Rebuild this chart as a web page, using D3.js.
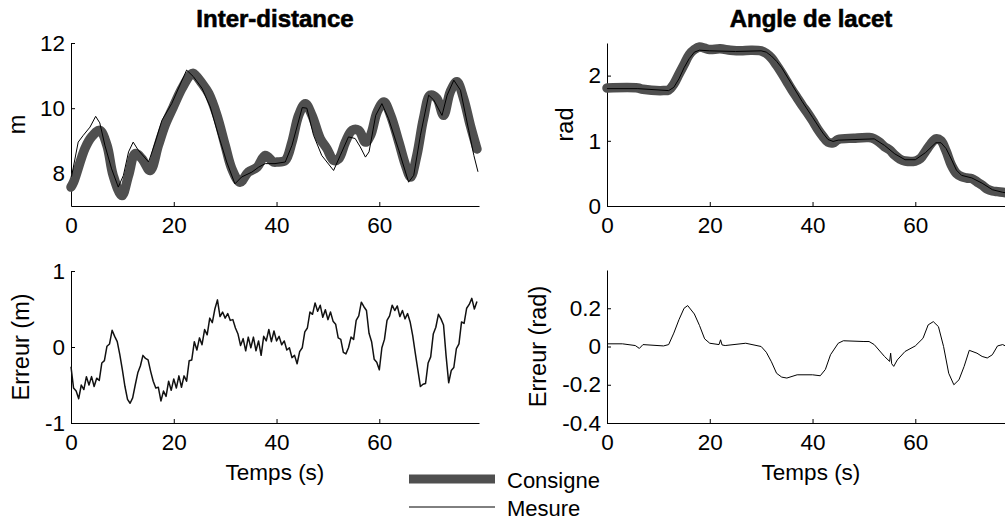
<!DOCTYPE html>
<html>
<head>
<meta charset="utf-8">
<script src="https://cdn.jsdelivr.net/npm/d3@7"></script>
<style>
body { margin: 0; background: #fff; }
svg text { font-family: "Liberation Sans", Arial, sans-serif; fill: #000; }
</style>
</head>
<body>
<svg id="chart" width="1005" height="521"></svg>
<script>
'use strict';

// Inter-distance (m) : consigne / mesure
var distConsT = [0, 0.5, 2.7, 4, 5.6, 7, 8.2, 9.9, 11.2, 12.5, 13.8, 15.4, 17, 18.3, 19.9, 21.6, 23.2, 23.8, 25.5, 26.8, 28.4, 30, 31.3, 32.9, 34.5, 36.2, 37.8, 39.4, 40.1, 41.7, 43, 44.3, 45.6, 46.9, 48.5, 49.8, 51.1, 52.1, 53.4, 54.7, 56, 57.3, 58.3, 59.6, 60.9, 62.2, 63.8, 65.1, 66.1, 67.3, 68.6, 69.9, 71.2, 72.5, 73.8, 75.1, 76.4, 77.7, 79];
var distConsV = [7.58, 7.73, 8.76, 9.12, 9.32, 8.86, 7.94, 7.32, 7.94, 8.61, 8.45, 8.09, 8.86, 9.48, 10.04, 10.61, 11.02, 11.07, 10.76, 10.45, 9.78, 8.86, 8.14, 7.73, 8.04, 8.19, 8.55, 8.35, 8.35, 8.4, 8.96, 9.78, 10.14, 9.78, 9.07, 8.76, 8.4, 8.45, 8.96, 9.32, 9.32, 8.96, 9.17, 9.89, 10.19, 9.78, 8.96, 8.25, 7.89, 8.55, 9.68, 10.4, 10.3, 9.78, 10.5, 10.81, 10.3, 9.48, 8.75];
var distMesT = [0.1, 1.4, 2.4, 3.7, 4.8, 5.6, 6.6, 7.9, 9.2, 10.2, 11.2, 12.1, 13.1, 15.1, 16.4, 17.7, 19.6, 21.2, 22.5, 23.8, 25.5, 27.1, 28.7, 30.3, 31.9, 33.2, 35.2, 36.5, 37.8, 39.7, 41.7, 43, 45, 45.9, 47.2, 48.8, 51.1, 52.4, 54, 55.3, 56.3, 57.3, 58, 59.3, 60.5, 61.8, 63.8, 65.7, 66.7, 68, 69.6, 70.6, 72.2, 73.2, 74.5, 75.8, 77.4, 78.4, 79.2];
var distMesV = [7.9, 8.96, 9.17, 9.42, 9.75, 9.55, 8.86, 8.14, 7.58, 7.94, 8.66, 8.96, 8.71, 8.35, 8.96, 9.63, 10.14, 10.71, 11.17, 10.97, 10.61, 10.04, 9.17, 8.35, 7.68, 7.89, 8.04, 8.19, 8.3, 8.3, 8.35, 8.86, 10.02, 10.0, 9.17, 8.55, 8.09, 8.55, 9.12, 9.07, 8.81, 8.5, 8.66, 9.78, 10.14, 9.68, 8.71, 7.73, 7.94, 9.17, 10.4, 10.25, 9.78, 10.4, 10.86, 10.55, 9.32, 8.55, 8.05];

// Angle de lacet (rad) : consigne / mesure
var yawConsT = [0, 6, 7, 11, 12, 13, 14, 15, 16, 17, 18, 19, 20, 22, 24, 26, 28, 30, 31, 32, 33, 34, 35, 36, 37, 38, 39, 40, 41, 42, 43, 44, 45, 48, 51, 52, 53, 54, 55, 56, 57, 58, 60, 61, 62, 63, 64, 65, 66, 67, 68, 69, 70, 71, 72, 73, 74, 75, 76, 77, 78, 79.4];
var yawConsV = [1.81, 1.81, 1.79, 1.77, 1.78, 1.87, 2.02, 2.17, 2.32, 2.40, 2.44, 2.42, 2.40, 2.41, 2.39, 2.38, 2.39, 2.38, 2.34, 2.27, 2.16, 2.04, 1.91, 1.78, 1.66, 1.54, 1.43, 1.31, 1.18, 1.07, 0.98, 0.97, 1.02, 1.04, 1.05, 1.03, 0.98, 0.91, 0.86, 0.78, 0.72, 0.69, 0.69, 0.73, 0.84, 0.95, 1.03, 1.0, 0.84, 0.63, 0.50, 0.45, 0.43, 0.42, 0.37, 0.32, 0.26, 0.23, 0.22, 0.21, 0.20, 0.19];
var yawMesT = [0, 6, 12, 13, 14, 15, 16, 17, 18, 20, 25, 30, 31, 32, 33, 34, 36, 38, 40, 42, 43, 44, 45, 52, 54, 56, 58, 60, 62, 64, 65, 66, 67, 68, 69, 71, 73, 75, 77, 79.4];
var yawMesV = [1.80, 1.80, 1.77, 1.82, 1.95, 2.12, 2.26, 2.36, 2.39, 2.38, 2.37, 2.38, 2.36, 2.30, 2.22, 2.12, 1.86, 1.60, 1.36, 1.12, 1.02, 0.99, 1.01, 1.03, 0.93, 0.80, 0.71, 0.71, 0.82, 0.97, 0.97, 0.88, 0.72, 0.55, 0.47, 0.43, 0.35, 0.25, 0.21, 0.18];

// Erreur inter-distance (m), one sample every 0.5 s
var distErrStep = 0.5;
var distErr = [-0.26, -0.54, -0.58, -0.68, -0.50, -0.56, -0.39, -0.50, -0.39, -0.52, -0.41, -0.44, -0.21, -0.18, 0.01, 0.04, 0.22, 0.14,
  0.07, -0.10, -0.30, -0.52, -0.69, -0.74, -0.67, -0.50, -0.34, -0.25, -0.11, -0.15, -0.17, -0.32, -0.45, -0.54,
  -0.53, -0.71, -0.58, -0.65, -0.45, -0.57, -0.42, -0.54, -0.38, -0.53, -0.38, -0.45, -0.18, -0.17, 0.07, -0.04,
  0.12, 0.03, 0.23, 0.16, 0.38, 0.32, 0.50, 0.62, 0.40, 0.46, 0.38, 0.44, 0.35, 0.36, 0.25, 0.17, 0.02, 0.11,
  -0.05, 0.13, -0.01, 0.13, -0.05, 0.08, -0.11, 0.14, 0.08, 0.23, 0.07, 0.21, 0.08, 0.14, 0.03, 0.08, -0.04,
  -0.01, -0.14, -0.11, -0.22, -0.06, -0.01, 0.20, 0.25, 0.46, 0.43, 0.58, 0.47, 0.55, 0.39, 0.49, 0.36, 0.46,
  0.34, 0.30, 0.12, 0.10, -0.07, -0.09, -0.01, 0.13, 0.10, 0.35, 0.41, 0.59, 0.53, 0.48, 0.18, 0.07, -0.16,
  -0.20, -0.30, -0.01, 0.10, 0.35, 0.41, 0.55, 0.48, 0.54, 0.40, 0.48, 0.37, 0.44, 0.33, 0.15, -0.08, -0.30,
  -0.52, -0.49, -0.48, -0.21, -0.13, 0.17, 0.26, 0.43, 0.37, 0.29, -0.12, -0.47, -0.31, -0.27, -0.02, 0.04,
  0.33, 0.31, 0.51, 0.56, 0.64, 0.50, 0.60];

// Erreur angle (rad)
var yawErrT = [0, 3, 5.5, 6.3, 7, 11, 12, 13, 14, 15, 15.7, 17, 18, 19, 20, 21.8, 22.1, 22.4, 23, 27, 30, 31, 32, 33, 34, 35, 37, 40, 41.5, 42.5, 43.5, 45, 46, 50, 51, 52, 54, 55, 55.2, 55.4, 55.8, 56.5, 58, 60, 61.5, 62.5, 63.5, 64.5, 65.5, 66.5, 67.5, 68.5, 69.5, 70.5, 72, 73, 74, 75, 76, 77, 78, 79.4];
var yawErrV = [0.014, 0.014, 0.005, -0.01, 0.01, 0.003, 0.01, 0.07, 0.14, 0.2, 0.214, 0.17, 0.11, 0.04, 0.017, 0.01, 0.035, 0.008, 0.005, 0.017, 0.0, -0.03, -0.08, -0.14, -0.16, -0.165, -0.148, -0.148, -0.153, -0.12, -0.043, 0.017, 0.03, 0.026, 0.026, 0.01, -0.052, -0.078, -0.035, -0.09, -0.104, -0.07, -0.026, 0.003, 0.043, 0.113, 0.13, 0.104, 0.0, -0.14, -0.2, -0.174, -0.104, -0.02, -0.035, -0.052, -0.06, -0.043, 0.003, 0.01, -0.003, 0.0];

var xDomain = [0, 79.4];
var xTicks = [0, 20, 40, 60];
var consColor = '#4f4f4f';

var svg = d3.select('#chart');

function zip(ts, vs) {
  return ts.map(function (t, i) { return [t, vs[i]]; });
}

function drawPanel(p) {
  var x = d3.scaleLinear().domain(xDomain).range([p.left, p.left + 408]);
  var y = d3.scaleLinear().domain(p.yDomain).range([p.bottom, p.top]);

  var g = svg.append('g');

  var xAxis = d3.axisBottom(x).tickValues(xTicks)
    .tickSizeInner(-4).tickSizeOuter(0).tickPadding(11)
    .tickFormat(function (d) { return String(d); });
  var yAxis = d3.axisLeft(y).tickValues(p.yTicks)
    .tickSizeInner(-4).tickSizeOuter(0).tickPadding(6)
    .tickFormat(function (d) { return String(d); });

  var gx = g.append('g').attr('transform', 'translate(0,' + p.bottom + ')').call(xAxis);
  var gy = g.append('g').attr('transform', 'translate(' + p.left + ',0)').call(yAxis);
  [gx, gy].forEach(function (a) {
    a.attr('font-size', null).attr('font-family', null);
    a.selectAll('text').style('font-size', '22.5px');
    a.selectAll('path, line').attr('stroke', '#000').attr('stroke-width', 1);
  });

  var line = d3.line()
    .x(function (d) { return x(d[0]); })
    .y(function (d) { return y(d[1]); });

  p.series.forEach(function (s) {
    g.append('path')
      .datum(s.data)
      .attr('fill', 'none')
      .attr('stroke', s.color)
      .attr('stroke-width', s.width)
      .attr('stroke-linejoin', 'round')
      .attr('stroke-linecap', s.width > 2 ? 'round' : 'butt')
      .attr('d', line.curve(s.smooth ? d3.curveCatmullRom : d3.curveLinear));
  });

  g.append('text')
    .attr('transform', 'translate(' + p.yLabelX + ',' + ((p.top + p.bottom) / 2) + ') rotate(-90)')
    .attr('text-anchor', 'middle')
    .style('font-size', '23.5px')
    .text(p.yLabel);

  if (p.title) {
    g.append('text')
      .attr('x', p.left + 204)
      .attr('y', 27)
      .attr('text-anchor', 'middle')
      .style('font-size', '24px')
      .style('font-weight', 'bold')
      .style('stroke', '#000')
      .style('stroke-width', 0.6)
      .text(p.title);
  }
  if (p.xLabel) {
    g.append('text')
      .attr('x', p.left + 204)
      .attr('y', 480)
      .attr('text-anchor', 'middle')
      .style('font-size', '22.5px')
      .text(p.xLabel);
  }
}

drawPanel({
  left: 71, top: 43, bottom: 206, yDomain: [7, 12], yTicks: [8, 10, 12],
  yLabel: 'm', yLabelX: 25, title: 'Inter-distance',
  series: [
    {data: zip(distConsT, distConsV), color: consColor, width: 9.5, smooth: true},
    {data: zip(distMesT, distMesV), color: '#000', width: 1}
  ]
});

drawPanel({
  left: 607, top: 43, bottom: 206, yDomain: [0, 2.5], yTicks: [0, 1, 2],
  yLabel: 'rad', yLabelX: 573, title: 'Angle de lacet',
  series: [
    {data: zip(yawConsT, yawConsV), color: consColor, width: 9.5, smooth: true},
    {data: zip(yawMesT, yawMesV), color: '#000', width: 1}
  ]
});

drawPanel({
  left: 71, top: 271, bottom: 423, yDomain: [-1, 1], yTicks: [-1, 0, 1],
  yLabel: 'Erreur (m)', yLabelX: 29, xLabel: 'Temps (s)',
  series: [
    {data: distErr.map(function (v, i) { return [i * distErrStep, v]; }), color: '#111', width: 1.5}
  ]
});

drawPanel({
  left: 607, top: 270, bottom: 423, yDomain: [-0.4, 0.4], yTicks: [-0.4, -0.2, 0, 0.2],
  yLabel: 'Erreur (rad)', yLabelX: 546, xLabel: 'Temps (s)',
  series: [
    {data: zip(yawErrT, yawErrV), color: '#000', width: 1}
  ]
});

// legend
var legendItems = [
  {label: 'Consigne', color: consColor, width: 9, y: 479, textY: 488},
  {label: 'Mesure', color: '#000', width: 1, y: 507, textY: 516}
];
var lg = svg.append('g');
legendItems.forEach(function (d) {
  lg.append('line')
    .attr('x1', 409).attr('x2', 495)
    .attr('y1', d.y).attr('y2', d.y)
    .attr('stroke', d.color)
    .attr('stroke-width', d.width);
  lg.append('text')
    .attr('x', 507)
    .attr('y', d.textY)
    .style('font-size', '22px')
    .text(d.label);
});
</script>
</body>
</html>
